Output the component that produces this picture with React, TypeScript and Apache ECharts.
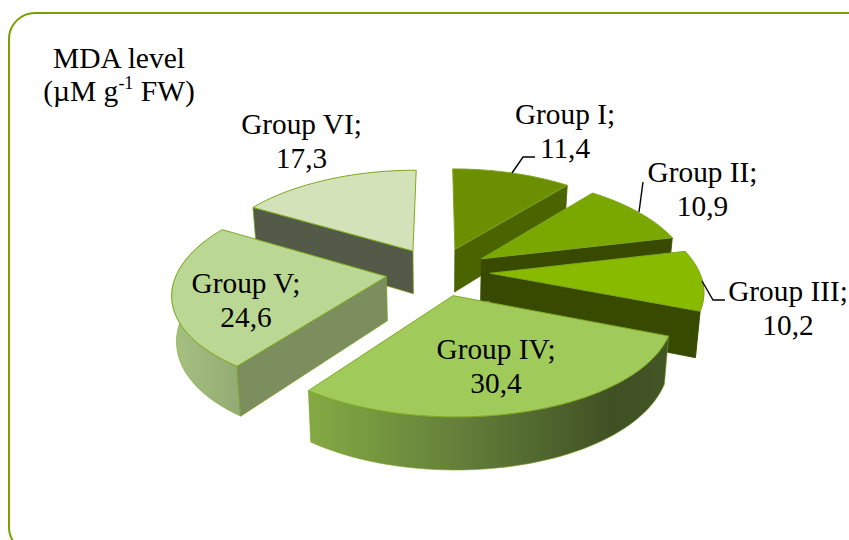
import React, { useEffect, useRef } from "react";
import * as echarts from "echarts";

const categories = ["Group I", "Group II", "Group III", "Group IV", "Group V", "Group VI"];
const values = [11.4, 10.9, 10.2, 30.4, 24.6, 17.3];
const titleText = "MDA level\n(µM g{sup|-1} FW)";

// Layout and styling (not data)
const paintOrder = [0, 5, 1, 4, 2, 3];
const topColors = ["#6b8f00", "#7aa700", "#88ba00", "#a0ca5a", "#bbd794", "#d3e2b9"];
const radialColors = ["#4a6500", "#384a00", "#384a00", "#3e4f24", "#7d8e5e", "#535a47"];
const LC = { cx: 438, cy: 271.5, A: 209, B: 97.2, p: 0.138, px: 0.155, explode: 0.25, depth: 44, squeeze: 0.982 };
const labelAnchors = [[565, 130.5], [702.5, 188.5], [788, 308], [496, 366], [246, 300], [301.5, 141]];
const leaders = [
  [[512, 173], [523, 157], [535, 157]],
  [[639, 212], [643, 182]],
  [[702, 281], [713, 300], [725, 300]],
];

const total = values.reduce((a, b) => a + b, 0);
const rad = (d: number) => (d * Math.PI) / 180;

function sliceAngles(i: number) {
  let s = 0;
  for (let k = 0; k < i; k++) s += values[k];
  return [(s / total) * 360, ((s + values[i]) / total) * 360];
}

function renderItem(_params: any, api: any) {
  const i = api.value(0);
  const val = api.value(1);
  const [a0, a1] = sliceAngles(i);
  const mid = rad((a0 + a1) / 2);
  const ou = LC.explode * Math.sin(mid);
  const ov = LC.explode * Math.cos(mid);
  const project = (u: number, v: number, low: boolean) => {
    const w = 1 + LC.p * (v + ov);
    const wx = 1 + LC.px * (v + ov);
    let x = (LC.A * (u + ou)) / wx;
    let y = (-LC.B * (v + ov)) / w;
    if (low) {
      x *= LC.squeeze;
      y += LC.depth / w;
    }
    return [LC.cx + x, LC.cy + y];
  };
  const rim = (deg: number, low: boolean) => project(Math.sin(rad(deg)), Math.cos(rad(deg)), low);
  const arc = (from: number, to: number, low: boolean) => {
    const n = Math.max(2, Math.ceil(Math.abs(to - from) / 2));
    const out: number[][] = [];
    for (let k = 0; k <= n; k++) out.push(rim(from + ((to - from) * k) / n, low));
    return out;
  };
  const children: any[] = [];
  const radialWall = (deg: number) => {
    children.push({
      type: "polygon",
      shape: { points: [project(0, 0, false), rim(deg, false), rim(deg, true), project(0, 0, true)] },
      style: { fill: radialColors[i], stroke: i > 3 ? "#7a9f22" : radialColors[i], lineWidth: 0.8 },
    });
  };
  const w0 = Math.max(a0, 92);
  const w1 = Math.min(a1, 292);
  if (w1 > w0) {
    // A narrow sliver of rim (Group III) closes straight to its lower corner.
    const pts = w1 - w0 < 30 ? [...arc(w0, w1, false), rim(w1, true)] : [...arc(w0, w1, false), ...arc(w1, w0, true)];
    let fill: any = "#64860a";
    if (i === 3)
      fill = new echarts.graphic.LinearGradient(1, 0, 0, 0, [
        { offset: 0, color: "#435626" },
        { offset: 0.15, color: "#3f5023" },
        { offset: 0.55, color: "#617c39" },
        { offset: 1, color: "#84aa44" },
      ]);
    if (i === 4)
      fill = new echarts.graphic.LinearGradient(0, 0, 1, 0, [
        { offset: 0, color: "#a6c181" },
        { offset: 1, color: "#92ab74" },
      ]);
    children.push({
      type: "polygon",
      shape: { points: pts },
      style: { fill, stroke: "#7a9f22", lineWidth: 0.6 },
    });
  }
  if (Math.sin(rad(a1)) > 0) radialWall(a1);
  if (Math.sin(rad(a0)) < 0) radialWall(a0);
  children.push({
    type: "polygon",
    shape: { points: [project(0, 0, false), ...arc(a0, a1, false)] },
    style: { fill: topColors[i], stroke: "#7fa81e", lineWidth: 1 },
  });
  if (leaders[i]) {
    children.push({
      type: "polyline",
      shape: { points: leaders[i] },
      style: { fill: "none", stroke: "#000", lineWidth: 1.4 },
    });
  }
  children.push({
    type: "text",
    x: labelAnchors[i][0],
    y: labelAnchors[i][1],
    style: {
      text: `${categories[i]};\n${String(val).replace(".", ",")}`,
      font: "29.3px 'Liberation Serif'",
      lineHeight: 34,
      fill: "#000",
      align: "center",
      verticalAlign: "middle",
    },
  });
  return { type: "group", children };
}

export default function App() {
  const ref = useRef<HTMLDivElement>(null);
  useEffect(() => {
    const chart = echarts.init(ref.current!, null, { renderer: "svg" });
    chart.setOption({
      animation: false,
      backgroundColor: "#fff",
      title: {
        text: titleText,
        left: 114,
        top: 36,
        textAlign: "center",
        textStyle: {
          fontFamily: "'Liberation Serif'",
          fontSize: 29.5,
          fontWeight: "normal",
          color: "#000",
          lineHeight: 33,
          rich: {
            sup: { fontFamily: "'Liberation Serif'", fontSize: 18, verticalAlign: "top", lineHeight: 26, color: "#000" },
          },
        },
      },
      graphic: [
        {
          type: "rect",
          silent: true,
          z: -1,
          shape: { x: 9, y: 13, width: 870, height: 540, r: 26 },
          style: { fill: "#fff", stroke: "#76a100", lineWidth: 2 },
        },
      ],
      series: [
        {
          type: "custom",
          coordinateSystem: "none",
          silent: true,
          renderItem,
          data: paintOrder.map((i) => [i, values[i]]),
        },
      ],
    });
    return () => chart.dispose();
  }, []);
  return <div ref={ref} style={{ position: "absolute", left: 0, top: 0, width: 849, height: 540 }} />;
}
